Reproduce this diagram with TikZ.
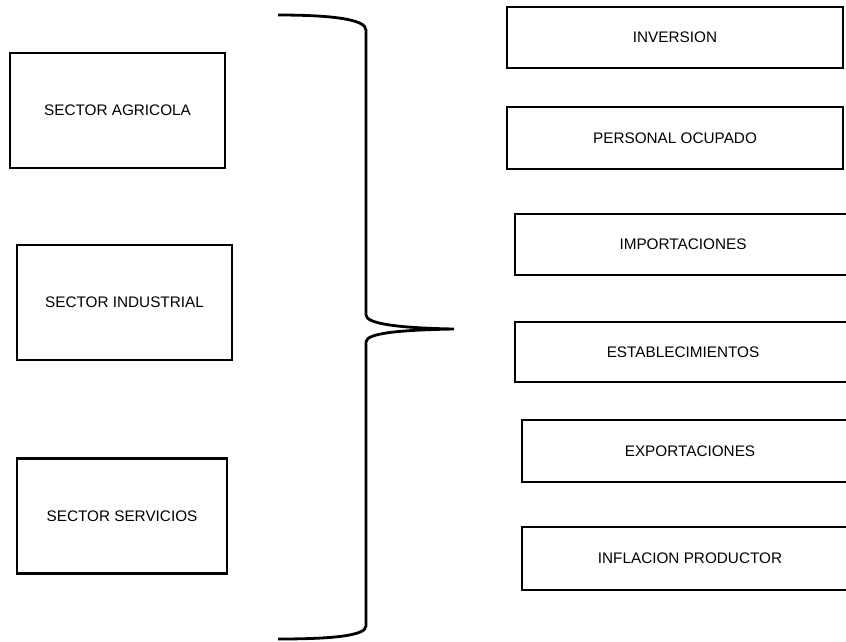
\documentclass[tikz,border=0pt]{standalone}
\usepackage{fontspec}
\setmainfont{Liberation Sans}
\begin{document}
\begin{tikzpicture}[x=1pt,y=-1pt,
  box/.style={draw=black, line width=2.4pt, rectangle, inner sep=0pt,
    font=\fontsize{15.3}{18}\selectfont, text=black},
  sectorbox/.style={box, minimum width=215pt, minimum height=115pt},
  itembox/.style={box, minimum width=336pt, minimum height=61pt},
  bracepath/.style={draw=black, line width=2.8pt}
]
\useasboundingbox (0,0) rectangle (846,641);
\clip (0,0) rectangle (846,641);

% sectors on the left
\node[sectorbox] (agr) at (117.5,110.5) {SECTOR AGRICOLA};
\node[sectorbox] (ind) at (124.5,302.5) {SECTOR INDUSTRIAL};
\node[sectorbox, minimum width=210pt] (ser) at (122,516) {SECTOR SERVICIOS};

% variables on the right
\node[itembox] (inv) at (675,37.5) {INVERSION};
\node[itembox, minimum height=62pt] (per) at (675,138) {PERSONAL OCUPADO};
\node[itembox] (imp) at (683,244.5) {IMPORTACIONES};
\node[itembox, minimum height=60pt] (est) at (683,352) {ESTABLECIMIENTOS};
\node[itembox, minimum height=62pt] (exp) at (690,451) {EXPORTACIONES};
\node[itembox, minimum height=63pt] (inf) at (690,558.5) {INFLACION PRODUCTOR};

% curly brace joining both groups
\coordinate (btop) at (278,15);
\coordinate (btip) at (454,329);
\coordinate (bbot) at (278,639);
\draw[bracepath]
  (btop) .. controls (330,15) and (366,19) .. (366,30)
  -- (366,315)
  .. controls (366,324) and (400,328) .. (btip)
  .. controls (400,330) and (366,333) .. (366,342)
  -- (366,626)
  .. controls (366,636) and (330,639) .. (bbot);
\end{tikzpicture}
\end{document}
